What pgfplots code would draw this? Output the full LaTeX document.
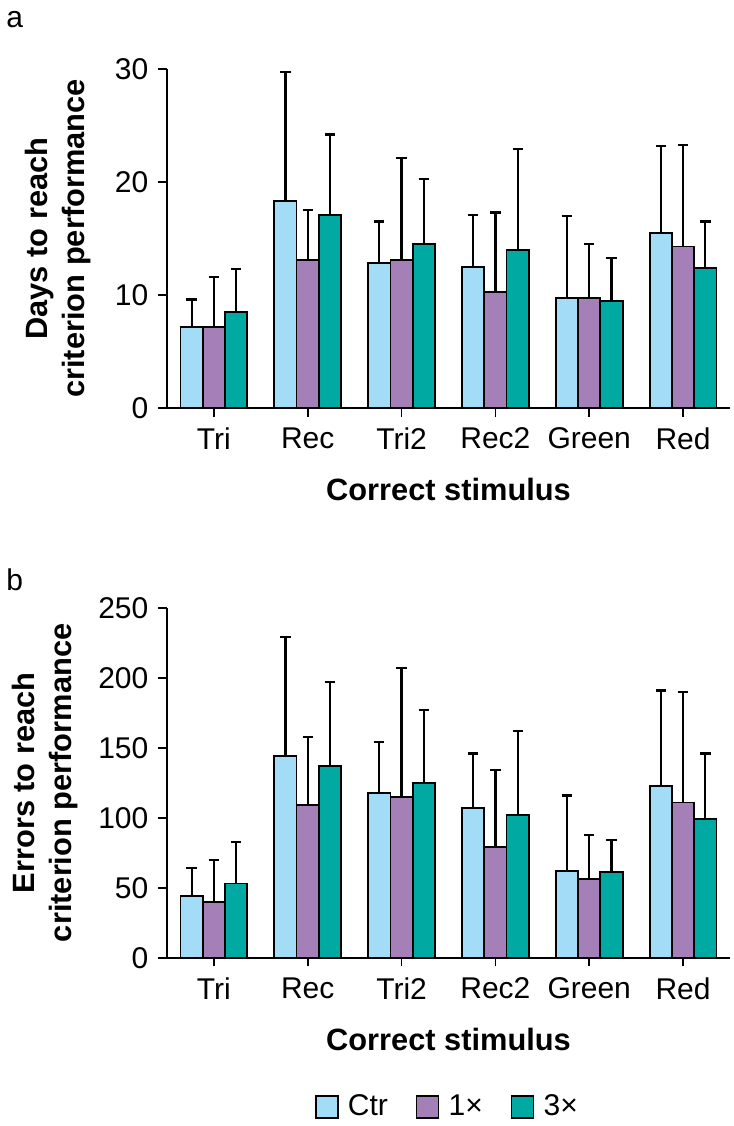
\documentclass[border=0pt]{standalone}
\usepackage{pgfplots}
\pgfplotsset{compat=1.18}
\usepackage{pgfplotstable}
\usepackage{fontspec}
\setmainfont{Liberation Sans}
\definecolor{ctr}{HTML}{A2DCF6}
\definecolor{one}{HTML}{A47FB8}
\definecolor{three}{HTML}{00A9A1}

\pgfplotstableread{
x c ce o oe t te
0 7.2 2.4 7.2 4.4 8.5 3.8
1 18.3 11.4 13.1 4.4 17.1 7.1
2 12.8 3.7 13.1 9.0 14.5 5.8
3 12.5 4.6 10.3 7.0 14.0 8.9
4 9.7 7.3 9.7 4.8 9.5 3.8
5 15.5 7.7 14.3 9.0 12.4 4.1
}\dataA

\pgfplotstableread{
x c ce o oe t te
0 44 20 40 30 53 30
1 144 85 109 49 137 60
2 118 36 115 92 125 52
3 107 39 79 55 102 60
4 62 54 56 32 61 23
5 123 68 111 79 99 47
}\dataB

\pgfplotsset{
  mybars/.style={
    scale only axis,
    width=281.5pt,
    xmin=-0.5, xmax=5.5, ymin=0,
    enlargelimits=false,
    axis x line*=bottom, axis y line*=left,
    axis line style={-, line width=0.8pt, black},
    ybar=0pt, bar width=11.15pt,
    xtick={0,...,5},
    xticklabels={Tri,Rec,Tri2,Rec2,Green,Red},
    tick align=outside,
    major tick length=4.3pt,
    tick style={line width=0.8pt, black},
    /pgf/number format/assume math mode=true,
    x tick label style={font=\fontsize{15}{17}\selectfont, yshift=-2pt},
    y tick label style={font=\fontsize{15}{17}\selectfont, xshift=-1.5pt},
    xlabel={Correct stimulus},
    xlabel style={font=\fontsize{15.4}{18}\selectfont\bfseries, at={(axis description cs:0.5,0)}, anchor=center, yshift=-40.8pt},
    ylabel style={font=\fontsize{15.4}{18.5}\selectfont\bfseries, align=center, anchor=center},
    every axis plot/.append style={draw=black, line width=0.9pt},
    error bars/error bar style={line width=1.1pt, black, solid},
    error bars/error mark options={rotate=90, line width=1.1pt, black, mark size=2.6pt, solid},
  },
  myerr/.style={
    error bars/.cd, y dir=plus, y explicit,
  },
}

\begin{document}
\begin{tikzpicture}
\useasboundingbox (-83.5pt,-84.15pt) rectangle (283.5pt,478.85pt);

\begin{axis}[mybars, at={(0pt,274.85pt)}, anchor=south west,
  height=169.5pt, ymax=30, ytick={0,10,20,30},
  ylabel={Days to reach\\criterion performance},
  ylabel style={at={(axis description cs:-0.1936,0.5)}}]
\addplot[fill=ctr, myerr] table[x=x, y=c, y error=ce]{\dataA};
\addplot[fill=one, myerr] table[x=x, y=o, y error=oe]{\dataA};
\addplot[fill=three, myerr] table[x=x, y=t, y error=te]{\dataA};
\end{axis}

\begin{axis}[mybars, at={(0pt,0pt)}, anchor=south west,
  height=174.85pt, ymax=250, ytick={0,50,100,150,200,250},
  ylabel={Errors to reach\\criterion performance},
  ylabel style={at={(axis description cs:-0.2167,0.5)}},
  legend style={at={(axis description cs:0.5,0)}, anchor=center, yshift=-74.5pt,
    draw=none, fill=none, legend columns=3,
    font=\fontsize{15}{17}\selectfont,
    /tikz/every even column/.append style={column sep=12pt}},
  legend image code/.code={\draw[#1, line width=0.8pt] (0pt,-5.5pt) rectangle (11pt,5.5pt); \path[draw=none, fill=none] (0pt,0pt) rectangle (14pt,0.1pt);},
  ]
\addplot[fill=ctr, myerr] table[x=x, y=c, y error=ce]{\dataB};
\addplot[fill=one, myerr] table[x=x, y=o, y error=oe]{\dataB};
\addplot[fill=three, myerr] table[x=x, y=t, y error=te]{\dataB};
\legend{Ctr, 1×, 3×}
\end{axis}

\node[anchor=west, font=\fontsize{15}{17}\selectfont] at (-83.8pt,469pt) {a};
\node[anchor=west, font=\fontsize{15}{17}\selectfont] at (-83.8pt,189pt) {b};
\end{tikzpicture}
\end{document}
